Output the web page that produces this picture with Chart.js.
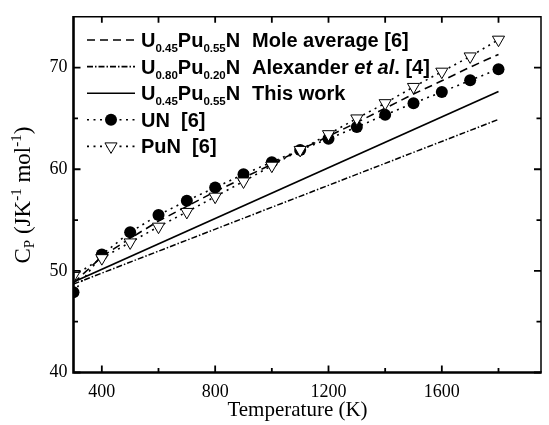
<!DOCTYPE html>
<html>
<head>
<meta charset="utf-8">
<script src="https://cdn.jsdelivr.net/npm/chart.js@4.4.0/dist/chart.umd.min.js"></script>
<style>
  html, body { margin: 0; padding: 0; background: #fff; }
</style>
</head>
<body>
<canvas id="cp-chart" width="549" height="425"></canvas>
<script>
// temperatures (K) where the UN / PuN / mole average values were read
const temps = [300, 400, 500, 600, 700, 800, 900, 1000, 1100, 1200, 1300, 1400, 1500, 1600, 1700, 1800];
const unCp = [47.9, 51.6, 53.8, 55.5, 56.9, 58.2, 59.5, 60.7, 61.9, 63.0, 64.15, 65.35, 66.5, 67.6, 68.75, 69.85];
const punCp = [49.5, 51.25, 52.8, 54.35, 55.8, 57.3, 58.8, 60.35, 61.9, 63.45, 65.0, 66.5, 68.1, 69.6, 71.1, 72.75];
const moleAvgCp = [48.8, 51.4, 53.2, 54.9, 56.35, 57.8, 59.15, 60.5, 61.9, 63.25, 64.6, 66.0, 67.4, 68.7, 70.05, 71.3];
const thisWorkT = [300, 1800];
const thisWorkCp = [48.9, 67.65];
const alexT = [300, 1800];
const alexCp = [48.7, 64.9];

const xTicks = [400, 600, 800, 1000, 1200, 1400, 1600, 1800];
const xLabels = [400, 800, 1200, 1600];
const yTicks = [40, 45, 50, 55, 60, 65, 70];
const yLabels = [40, 50, 60, 70];

const SERIF = '"Liberation Serif", "Times New Roman", serif';
const SANS = '"Liberation Sans", Arial, sans-serif';

function pts(xs, ys) {
    return xs.map((x, i) => ({x: x, y: ys[i]}));
}

// draws a list of text pieces one after another, each with its own font and vertical shift
function drawRich(ctx, x, y, parts) {
    parts.forEach(p => {
        ctx.font = p.font;
        ctx.fillText(p.t, x, y + (p.dy || 0));
        x += ctx.measureText(p.t).width;
    });
}

const frame = {
    id: 'frame',
    afterDatasetsDraw(chart) {
        const ctx = chart.ctx, a = chart.chartArea;
        const sx = chart.scales.x, sy = chart.scales.y;
        ctx.save();
        ctx.strokeStyle = '#000';
        ctx.lineCap = 'butt';
        // ticks, pointing inward on all four sides
        ctx.lineWidth = 1.8;
        xTicks.forEach(v => {
            const px = sx.getPixelForValue(v);
            const len = xLabels.includes(v) ? 7 : 4.5;
            ctx.beginPath();
            ctx.moveTo(px, a.bottom); ctx.lineTo(px, a.bottom - len);
            ctx.moveTo(px, a.top); ctx.lineTo(px, a.top + 6);
            ctx.stroke();
        });
        yTicks.forEach(v => {
            const py = sy.getPixelForValue(v);
            const len = yLabels.includes(v) ? 7 : 4.5;
            ctx.beginPath();
            ctx.moveTo(a.left, py); ctx.lineTo(a.left + len, py);
            ctx.moveTo(a.right, py); ctx.lineTo(a.right - len, py);
            ctx.stroke();
        });
        // box: heavy left/bottom, thin top/right
        ctx.lineWidth = 1.5;
        ctx.beginPath();
        ctx.moveTo(a.left, a.top); ctx.lineTo(a.right, a.top); ctx.lineTo(a.right, a.bottom);
        ctx.stroke();
        ctx.lineWidth = 2.6;
        ctx.beginPath();
        ctx.moveTo(a.left, a.top - 0.75); ctx.lineTo(a.left, a.bottom); ctx.lineTo(a.right + 0.75, a.bottom);
        ctx.stroke();
        ctx.restore();
    }
};

const legendRows = [
    {dash: [8, 5], label: [{t: 'Mole average [6]', font: 'bold 20px ' + SANS}], formula: '45'},
    {dash: [6, 2, 1.5, 2], label: [{t: 'Alexander ', font: 'bold 20px ' + SANS}, {t: 'et al', font: 'italic bold 20px ' + SANS}, {t: '. [4]', font: 'bold 20px ' + SANS}], formula: '80'},
    {dash: [], label: [{t: 'This work', font: 'bold 20px ' + SANS}], formula: '45'},
    {dash: [2, 4.5], marker: 'circle', label: [{t: 'UN  [6]', font: 'bold 20px ' + SANS}]},
    {dash: [2, 4.5], marker: 'triangle', label: [{t: 'PuN  [6]', font: 'bold 20px ' + SANS}]}
];

const texts = {
    id: 'texts',
    afterDraw(chart) {
        const ctx = chart.ctx;
        ctx.save();
        ctx.fillStyle = '#000';
        ctx.strokeStyle = '#000';
        ctx.textBaseline = 'alphabetic';
        ctx.textAlign = 'left';

        // legend
        legendRows.forEach((row, i) => {
            const base = 47 + i * 26.6;
            const ly = base - 7;
            ctx.lineWidth = 1.6;
            ctx.setLineDash(row.dash);
            ctx.beginPath();
            ctx.moveTo(87, ly); ctx.lineTo(135, ly);
            ctx.stroke();
            ctx.setLineDash([]);
            if (row.marker === 'circle') {
                ctx.beginPath();
                ctx.arc(111, ly, 6, 0, Math.PI * 2);
                ctx.fill();
            } else if (row.marker === 'triangle') {
                const r = 7;
                ctx.beginPath();
                ctx.moveTo(111, ly + r);
                ctx.lineTo(111 - r * 0.866, ly - r / 2);
                ctx.lineTo(111 + r * 0.866, ly - r / 2);
                ctx.closePath();
                ctx.fillStyle = '#fff';
                ctx.fill();
                ctx.lineWidth = 1;
                ctx.stroke();
                ctx.fillStyle = '#000';
            }
            if (row.formula) {
                const big = 'bold 20px ' + SANS, small = 'bold 11.5px ' + SANS;
                const u = row.formula === '80' ? ['0.80', '0.20'] : ['0.45', '0.55'];
                drawRich(ctx, 141, base, [
                    {t: 'U', font: big}, {t: u[0], font: small, dy: 5},
                    {t: 'Pu', font: big}, {t: u[1], font: small, dy: 5},
                    {t: 'N', font: big}
                ]);
                drawRich(ctx, 252, base, row.label);
            } else {
                drawRich(ctx, 141, base, row.label);
            }
        });

        // x axis title
        ctx.font = '21px ' + SERIF;
        ctx.textAlign = 'center';
        ctx.fillText('Temperature (K)', 297.5, 416);

        // y axis title, rotated, with sub/superscripts
        ctx.textAlign = 'left';
        ctx.translate(30, 263.5);
        ctx.rotate(-Math.PI / 2);
        const f = '23px ' + SERIF, fs = '15px ' + SERIF;
        drawRich(ctx, 0, 0, [
            {t: 'C', font: f}, {t: 'P', font: fs, dy: 4},
            {t: ' (JK', font: f}, {t: '-1', font: fs, dy: -9},
            {t: ' mol', font: f}, {t: '-1', font: fs, dy: -9},
            {t: ')', font: f}
        ]);
        ctx.restore();
    }
};

new Chart(document.getElementById('cp-chart'), {
    type: 'line',
    data: {
        datasets: [
            {
                label: 'PuN [6]',
                data: pts(temps, punCp),
                borderColor: '#000', borderWidth: 1.6, borderDash: [2, 4.5],
                pointStyle: 'triangle', rotation: 180, pointRadius: 7,
                pointBackgroundColor: '#fff', pointBorderColor: '#000', pointBorderWidth: 1,
                order: 0
            },
            {
                label: 'UN [6]',
                data: pts(temps, unCp),
                borderColor: '#000', borderWidth: 1.6, borderDash: [2, 4.5],
                pointStyle: 'circle', pointRadius: 6,
                pointBackgroundColor: '#000', pointBorderColor: '#000', pointBorderWidth: 0,
                order: 1
            },
            {
                label: 'Mole average [6]',
                data: pts(temps, moleAvgCp),
                borderColor: '#000', borderWidth: 1.6, borderDash: [8, 5],
                pointRadius: 0, order: 2
            },
            {
                label: 'Alexander et al. [4]',
                data: pts(alexT, alexCp),
                borderColor: '#000', borderWidth: 1.5, borderDash: [6, 2, 1.5, 2],
                pointRadius: 0, order: 3
            },
            {
                label: 'This work',
                data: pts(thisWorkT, thisWorkCp),
                borderColor: '#000', borderWidth: 1.8,
                pointRadius: 0, order: 4
            }
        ]
    },
    options: {
        responsive: false,
        animation: false,
        devicePixelRatio: 1,
        layout: { padding: { left: 0, right: 1, top: 14, bottom: 0 } },
        plugins: {
            legend: { display: false },
            tooltip: { enabled: false }
        },
        scales: {
            x: {
                type: 'linear',
                min: 300,
                max: 1950,
                afterBuildTicks: s => { s.ticks = xTicks.map(v => ({value: v})); },
                afterFit: s => { s.height = 52.5; },
                grid: { display: false, drawTicks: false },
                border: { display: false },
                ticks: {
                    autoSkip: false, maxRotation: 0, padding: 9,
                    color: '#000', font: { family: SERIF, size: 18 },
                    callback: v => xLabels.includes(v) ? String(v) : ''
                }
            },
            y: {
                min: 40,
                max: 75,
                afterBuildTicks: s => { s.ticks = yTicks.map(v => ({value: v})); },
                afterFit: s => { s.width = 73.5; },
                grid: { display: false, drawTicks: false },
                border: { display: false },
                ticks: {
                    autoSkip: false, padding: 6,
                    color: '#000', font: { family: SERIF, size: 18 },
                    callback: v => yLabels.includes(v) ? String(v) : ''
                }
            }
        }
    },
    plugins: [frame, texts]
});
</script>
</body>
</html>
